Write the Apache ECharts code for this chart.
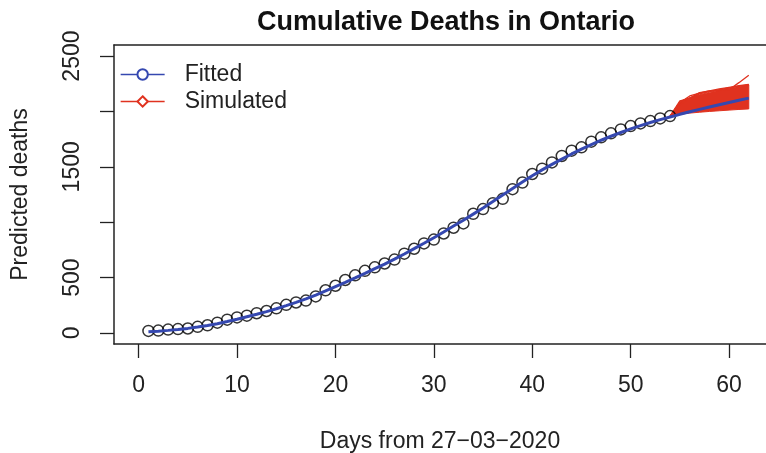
<!DOCTYPE html>
<html><head><meta charset="utf-8">
<script src="https://cdn.jsdelivr.net/npm/echarts@6/dist/echarts.min.js"></script>
<style>html,body{margin:0;padding:0;background:#fff}#c{width:766px;height:453px}</style>
</head><body><div id="c"></div>
<script>
// ---- data ----
const obsDays = [1,2,3,4,5,6,7,8,9,10,11,12,13,14,15,16,17,18,19,20,21,22,23,24,25,26,27,28,29,30,31,32,33,34,35,36,37,38,39,40,41,42,43,44,45,46,47,48,49,50,51,52,53,54];
const observed = [18,21,30,35,40,55,69,93,120,140,156,178,198,222,254,275,292,330,385,426,478,520,561,592,627,662,716,760,808,843,898,950,989,1076,1118,1172,1211,1298,1358,1435,1483,1540,1598,1646,1676,1727,1766,1802,1838,1868,1892,1913,1937,1958];
const fitDays = [1,2,3,4,5,6,7,8,9,10,11,12,13,14,15,16,17,18,19,20,21,22,23,24,25,26,27,28,29,30,31,32,33,34,35,36,37,38,39,40,41,42,43,44,45,46,47,48,49,50,51,52,53,54,55,56,57,58,59,60,61,62];
const fitted = [10,16,23,31,41,53,67,83,103,124,146,168,192,218,246,276,308,342,379,418,457,497,538,580,622,667,713,761,810,860,912,965,1018,1073,1128,1186,1245,1304,1362,1420,1472,1522,1570,1616,1660,1701,1740,1776,1810,1842,1872,1900,1926,1950,1974,1997,2019,2040,2061,2081,2101,2120];
const simDays = [54,55,56,57,58,59,60,61,62];
const simLow  = [1958,1975,1985,1993,2000,2006,2012,2018,2023];
const simHigh = [1958,2090,2125,2150,2172,2192,2210,2226,2240];
const simPathA = [1958,2060,2120,2170,2186,2190,2196,2260,2326];
const simPathB = [1958,2080,2140,2165,2185,2203,2218,2232,2245];
const simPathC = [1958,2095,2118,2158,2178,2196,2213,2228,2240];
const xTicks = [0,10,20,30,40,50,60];
const yTicks = [0,500,1000,1500,2000,2500];
const yTickLabels = [0,500,1500,2500];

const FONT = 'Liberation Sans, Arial, Helvetica, sans-serif';
const BLUE = '#3548b0';
const RED = '#e0321f';
const INK = '#222';

const pairs = (xs, ys) => xs.map((x, i) => [x, ys[i]]);

const chart = echarts.init(document.getElementById('c'), null, {renderer: 'canvas'});

const simLine = (name, ys, legendSym) => ({
  type: 'line', name: name, data: pairs(simDays, ys),
  symbol: legendSym || 'none', showSymbol: false, z: 3,
  lineStyle: {color: RED, width: 1.3}, itemStyle: {color: RED},
  emphasis: {disabled: true}
});

chart.setOption({
  animation: false,
  title: {
    text: 'Cumulative Deaths in Ontario', left: 441, top: 4, textAlign: 'center',
    textStyle: {fontFamily: FONT, fontSize: 27, fontWeight: 'bold', color: '#111'}
  },
  legend: {
    orient: 'vertical', left: 115, top: 58, itemWidth: 44, itemHeight: 13, itemGap: 4,
    data: ['Fitted', 'Simulated'],
    lineStyle: {width: 1.3},
    textStyle: {fontFamily: FONT, fontSize: 23, color: INK, padding: [0, 0, 0, 15]},
    selectedMode: false
  },
  grid: {left: 114, right: 0, top: 45, bottom: 109, outerBoundsMode: 'none', containLabel: false},
  xAxis: [{
    type: 'value', min: -2.5, max: 63.75,
    name: 'Days from 27\u221203\u22122020', nameLocation: 'middle', nameGap: 86,
    nameTextStyle: {fontFamily: FONT, fontSize: 23, color: INK},
    axisLine: {show: true, onZero: false, lineStyle: {color: INK, width: 1.5}},
    axisTick: {show: true, length: 14, customValues: xTicks, lineStyle: {color: INK, width: 1.3}},
    axisLabel: {customValues: xTicks, margin: 30, fontFamily: FONT, fontSize: 23, color: INK,
      formatter: v => String(v)},
    splitLine: {show: false}
  }, {
    type: 'value', position: 'top', min: -2.5, max: 63.75,
    axisLine: {show: true, onZero: false, lineStyle: {color: INK, width: 1.5}},
    axisTick: {show: false}, axisLabel: {show: false}, splitLine: {show: false}
  }],
  yAxis: {
    type: 'value', min: -100, max: 2600,
    name: 'Predicted deaths', nameLocation: 'middle', nameGap: 82,
    nameTextStyle: {fontFamily: FONT, fontSize: 23, color: INK},
    axisLine: {show: true, onZero: false, lineStyle: {color: INK, width: 1.5}},
    axisTick: {show: true, length: 14, customValues: yTicks, lineStyle: {color: INK, width: 1.3}},
    axisLabel: {customValues: yTickLabels, rotate: 90, margin: 30, fontFamily: FONT, fontSize: 23, color: INK,
      formatter: v => String(v)},
    splitLine: {show: false}
  },
  series: [
    {
      type: 'custom', name: 'band', z: 2, silent: true,
      data: [[simDays[0], simLow[0]]],
      renderItem: function (params, api) {
        const pts = [];
        for (let i = 0; i < simDays.length; i++) pts.push(api.coord([simDays[i], simHigh[i]]));
        for (let i = simDays.length - 1; i >= 0; i--) pts.push(api.coord([simDays[i], simLow[i]]));
        return {type: 'polygon', shape: {points: pts}, style: {fill: RED, stroke: RED, lineWidth: 1}};
      }
    },
    simLine('Simulated', simPathA, 'emptyDiamond'),
    simLine('Simulated', simPathB),
    simLine('Simulated', simPathC),
    {
      type: 'scatter', name: 'Observed', data: pairs(obsDays, observed), z: 4,
      symbol: 'circle', symbolSize: 11,
      itemStyle: {color: 'rgba(0,0,0,0)', borderColor: '#000', borderWidth: 1.5},
      emphasis: {disabled: true}
    },
    {
      type: 'line', name: 'Fitted', data: pairs(fitDays, fitted), z: 5,
      symbol: 'emptyCircle', showSymbol: false,
      lineStyle: {color: BLUE, width: 3}, itemStyle: {color: BLUE},
      emphasis: {disabled: true}
    }
  ]
});
</script>
</body></html>
